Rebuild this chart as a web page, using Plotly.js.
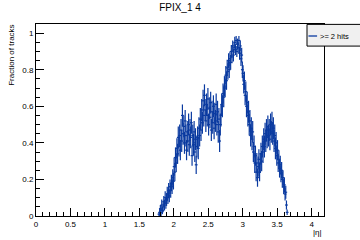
<!DOCTYPE html>
<html>
<head>
<meta charset="utf-8">
<script src="https://cdn.plot.ly/plotly-3.0.1.min.js"></script>
<style>html,body{margin:0;padding:0;background:#fff;}#chart{width:360px;height:240px;}</style>
</head>
<body>
<div id="chart"></div>
<script>
// Histogram: fraction of tracks with >= 2 hits vs |eta| (bin centres from binStart, step binWidth)
const binStart = 1.785;
const binWidth = 0.01;
const fraction = [
  0.01,0.02,0.04,0.02,0.06,0.03,0.05,0.08,0.06,0.10,
  0.07,0.09,0.12,0.10,0.14,0.11,0.16,0.14,0.18,0.16,
  0.21,0.19,0.27,0.24,0.32,0.29,0.37,0.34,0.43,0.38,
  0.44,0.36,0.47,0.41,0.55,0.45,0.49,0.40,0.52,0.44,
  0.36,0.46,0.41,0.50,0.39,0.47,0.43,0.51,0.33,0.44,
  0.39,0.46,0.35,0.42,0.28,0.38,0.43,0.37,0.48,0.44,
  0.53,0.47,0.58,0.51,0.63,0.55,0.66,0.58,0.52,0.61,
  0.55,0.64,0.50,0.59,0.54,0.62,0.47,0.57,0.51,0.60,
  0.48,0.56,0.52,0.61,0.50,0.57,0.46,0.53,0.41,0.50,
  0.55,0.61,0.60,0.67,0.65,0.71,0.70,0.77,0.74,0.81,
  0.79,0.85,0.80,0.86,0.84,0.90,0.87,0.93,0.88,0.92,
  0.95,0.91,0.96,0.90,0.94,0.92,0.96,0.89,0.93,0.86,
  0.88,0.80,0.78,0.72,0.74,0.66,0.68,0.60,0.62,0.55,
  0.57,0.50,0.52,0.44,0.48,0.42,0.46,0.35,0.38,0.29,
  0.33,0.24,0.29,0.21,0.27,0.31,0.24,0.29,0.34,0.30,
  0.38,0.35,0.42,0.38,0.45,0.41,0.47,0.43,0.49,0.44,
  0.47,0.42,0.50,0.46,0.51,0.45,0.48,0.41,0.44,0.37,
  0.40,0.33,0.36,0.29,0.31,0.26,0.28,0.23,0.25,0.20,
  0.21,0.16,0.17,0.12,0.13,0.06,0.02
];
const fractionErr = [
  0.01,0.02,0.02,0.02,0.03,0.02,0.03,0.03,0.03,0.035,
  0.03,0.035,0.04,0.035,0.04,0.035,0.04,0.04,0.045,0.04,
  0.045,0.045,0.05,0.05,0.055,0.05,0.055,0.055,0.06,0.055,
  0.06,0.055,0.06,0.06,0.06,0.06,0.06,0.06,0.06,0.06,
  0.055,0.06,0.06,0.06,0.06,0.06,0.06,0.06,0.055,0.06,
  0.06,0.06,0.055,0.06,0.05,0.06,0.06,0.06,0.06,0.06,
  0.06,0.06,0.06,0.06,0.06,0.06,0.06,0.06,0.06,0.06,
  0.06,0.06,0.06,0.06,0.06,0.06,0.06,0.06,0.06,0.06,
  0.06,0.06,0.06,0.06,0.06,0.06,0.06,0.06,0.06,0.06,
  0.06,0.06,0.06,0.055,0.055,0.055,0.05,0.05,0.05,0.045,
  0.045,0.04,0.045,0.04,0.04,0.035,0.035,0.03,0.035,0.03,
  0.03,0.03,0.025,0.03,0.03,0.03,0.025,0.035,0.03,0.04,
  0.04,0.045,0.045,0.05,0.05,0.055,0.055,0.06,0.06,0.06,
  0.06,0.06,0.06,0.06,0.06,0.06,0.06,0.055,0.06,0.055,
  0.055,0.05,0.055,0.05,0.055,0.055,0.05,0.055,0.06,0.055,
  0.06,0.06,0.06,0.06,0.06,0.06,0.06,0.06,0.06,0.06,
  0.06,0.06,0.06,0.06,0.06,0.06,0.06,0.06,0.06,0.06,
  0.06,0.055,0.055,0.05,0.05,0.05,0.05,0.045,0.045,0.045,
  0.04,0.04,0.04,0.035,0.035,0.025,0.015
];
const seriesName = '>= 2 hits';
const chartTitle = 'FPIX_1 4';
const xTitle = '|η|';
const yTitle = 'Fraction of tracks';

const blue = '#0a3aa0';
const font = 'Liberation Sans, Arial, Helvetica, sans-serif';

const trace = {
  type: 'scatter',
  mode: 'markers',
  name: seriesName,
  x0: binStart,
  dx: binWidth,
  y: fraction,
  marker: {symbol: 'line-ew-open', size: 2, color: blue, line: {color: blue, width: 1.2}},
  error_y: {type: 'data', array: fractionErr, visible: true, color: blue, thickness: 1.2, width: 0},
  showlegend: false,
  hoverinfo: 'x+y'
};

const axisBase = {
  showline: true, linecolor: '#000', linewidth: 1, mirror: true,
  ticks: 'inside', ticklen: 8, tickwidth: 1, tickcolor: '#000',
  showgrid: false, zeroline: false,
  tickfont: {family: font, size: 8, color: '#000'}
};

const layout = {
  width: 360, height: 240,
  margin: {l: 36, r: 36, t: 24, b: 24, pad: 0},
  paper_bgcolor: '#fff', plot_bgcolor: '#fff',
  title: {text: chartTitle, font: {family: font, size: 10, color: '#000'}, x: 0.5, xref: 'paper', y: 0.968, yanchor: 'middle'},
  xaxis: Object.assign({}, axisBase, {
    range: [0, 4.18], tick0: 0, dtick: 0.5,
    minor: {dtick: 0.1, tick0: 0, ticks: 'inside', ticklen: 4, tickcolor: '#000', showgrid: false}
  }),
  yaxis: Object.assign({}, axisBase, {
    range: [0, 1.05], tick0: 0, dtick: 0.2,
    minor: {dtick: 0.05, tick0: 0, ticks: 'inside', ticklen: 4, tickcolor: '#000', showgrid: false}
  }),
  annotations: [
    {text: yTitle, xref: 'paper', yref: 'paper', x: -0.083, y: 0.835, xanchor: 'center', yanchor: 'middle',
     textangle: -90, showarrow: false, font: {family: font, size: 8, color: '#000'}},
    {text: xTitle, xref: 'paper', yref: 'paper', x: 1.0, y: -0.088, xanchor: 'right', yanchor: 'middle',
     showarrow: false, font: {family: font, size: 8, color: '#000'}},
    {text: seriesName, xref: 'paper', yref: 'paper', x: 0.979, y: 0.9375, xanchor: 'left', yanchor: 'middle',
     showarrow: false, font: {family: font, size: 7.5, color: '#000'}}
  ],
  shapes: [
    {type: 'rect', xref: 'paper', yref: 'paper', x0: 0.941, x1: 1.128, y0: 0.885, y1: 0.998,
     fillcolor: '#f0f0f0', line: {color: '#000', width: 1}, layer: 'above'},
    {type: 'line', xref: 'paper', yref: 'paper', x0: 0.946, x1: 0.976, y0: 0.9375, y1: 0.9375,
     line: {color: blue, width: 1.3}, layer: 'above'}
  ]
};

Plotly.newPlot('chart', [trace], layout, {staticPlot: true, displayModeBar: false});
</script>
</body>
</html>
